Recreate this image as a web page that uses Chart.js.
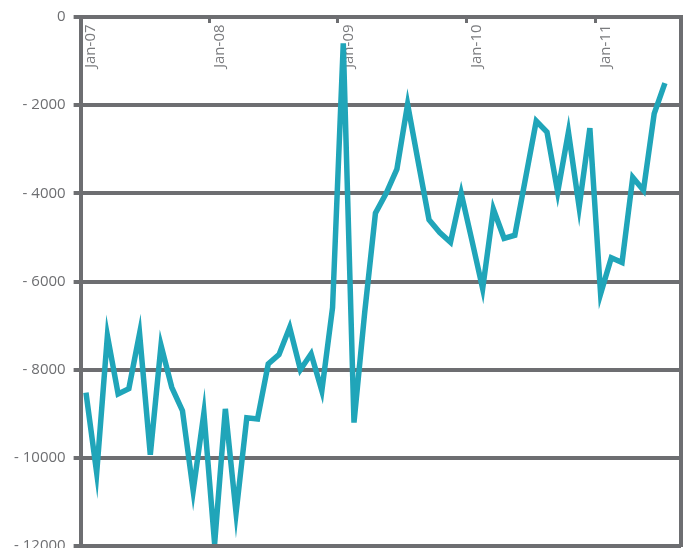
<!DOCTYPE html>
<html>
<head>
<meta charset="utf-8">
<script src="https://cdn.jsdelivr.net/npm/chart.js@4.4.1/dist/chart.umd.min.js"></script>
<style>
  html, body { margin: 0; padding: 0; background: #fff; overflow: hidden; }
  #wrap { position: relative; width: 689px; height: 563px; }
</style>
</head>
<body>
<div id="wrap"><canvas id="myChart"></canvas></div>
<script>
const months = [
  "Jan-07", "Feb-07", "Mar-07", "Apr-07", "May-07", "Jun-07", "Jul-07", "Aug-07", "Sep-07", "Oct-07", "Nov-07", "Dec-07",
  "Jan-08", "Feb-08", "Mar-08", "Apr-08", "May-08", "Jun-08", "Jul-08", "Aug-08", "Sep-08", "Oct-08", "Nov-08", "Dec-08",
  "Jan-09", "Feb-09", "Mar-09", "Apr-09", "May-09", "Jun-09", "Jul-09", "Aug-09", "Sep-09", "Oct-09", "Nov-09", "Dec-09",
  "Jan-10", "Feb-10", "Mar-10", "Apr-10", "May-10", "Jun-10", "Jul-10", "Aug-10", "Sep-10", "Oct-10", "Nov-10", "Dec-10",
  "Jan-11", "Feb-11", "Mar-11", "Apr-11", "May-11", "Jun-11", "Jul-11", "Aug-11"
];

const values = [
  -8520, -10340, -7230, -8550, -8430, -7180, -9930, -7450, -8400, -8930, -10750, -8980,
  -11950, -8890, -11250, -9090, -9120, -7870, -7660, -7040, -8000, -7640, -8480, -6590,
  -600, -9200, -6700, -4450, -4000, -3450, -1980, -3300, -4600, -4890, -5110, -4000,
  -5070, -6160, -4360, -5020, -4950, -3660, -2360, -2610, -3970, -2610, -4310, -2520,
  -6280, -5460, -5570, -3640, -3930, -2190, -1500, null
];

const yTicks = [0, -2000, -4000, -6000, -8000, -10000, -12000];

const gray = "#6d6e71";
const lineColor = "#20a5b9";
const fontFamily = "'Open Sans', 'Noto Sans', sans-serif";

new Chart("myChart", {
  type: "line",
  data: {
    labels: months,
    datasets: [
      {
        data: values,
        borderColor: lineColor,
        borderWidth: 5.5,
        pointRadius: 0,
        tension: 0,
        fill: false,
      },
    ],
  },
  options: {
    responsive: true,
    maintainAspectRatio: false,
    animation: false,
    layout: { padding: { top: -79, right: 8, left: 6, bottom: 0 } },
    plugins: {
      legend: { display: false },
      tooltip: { enabled: false },
    },
    scales: {
      x: {
        position: "top",
        offset: true,
        afterFit: (axis) => {
          axis.paddingLeft = 0;
          axis.paddingRight = 0;
        },
        grid: {
          offset: true,
          drawOnChartArea: false,
          drawTicks: true,
          tickLength: -6,
          lineWidth: 3,
          color: (ctx) => (ctx.index % 12 === 0 ? gray : "rgba(0,0,0,0)"),
        },
        border: { display: true, color: gray, width: 4 },
        ticks: {
          autoSkip: false,
          minRotation: 90,
          maxRotation: 90,
          mirror: true,
          padding: 51,
          labelOffset: 5,
          color: "#7a7b7e",
          font: { family: fontFamily, size: 15 },
          callback: (v, i) => (months[i].startsWith("Jan") ? months[i] : ""),
        },
      },
      y: {
        min: -12000,
        max: 0,
        afterBuildTicks: (axis) => {
          axis.ticks = yTicks.map((v) => ({ value: v }));
        },
        ticks: {
          padding: 8,
          color: gray,
          font: { family: fontFamily, size: 15 },
          callback: (v) => (v === 0 ? "0" : "- " + Math.abs(v)),
        },
        grid: { color: gray, lineWidth: 4, tickLength: 7 },
        border: { display: true, color: gray, width: 4 },
      },
      y2: {
        position: "right",
        display: true,
        grid: { drawOnChartArea: false, drawTicks: false },
        ticks: { display: false },
        border: { display: true, color: gray, width: 4 },
      },
    },
  },
});
</script>
</body>
</html>
